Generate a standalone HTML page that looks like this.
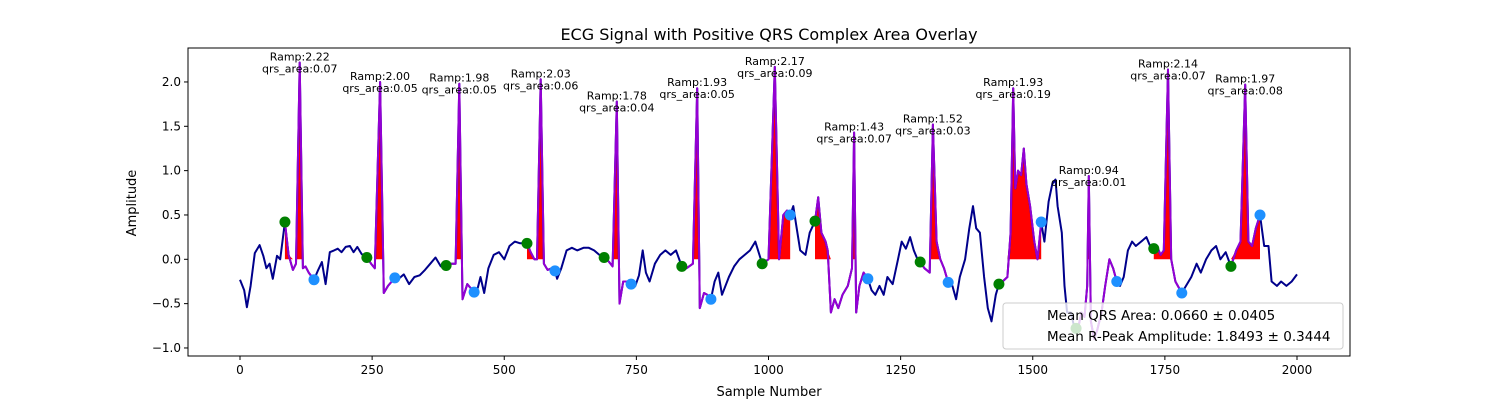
<!DOCTYPE html>
<html><head><meta charset="utf-8"><style>
html,body{margin:0;padding:0;background:#fff;}
svg{display:block;font-family:"DejaVu Sans","Liberation Sans",sans-serif;}
</style></head><body>
<svg id="chart" width="1500" height="400" viewBox="0 0 1500 400"></svg>
<script>
const sigSamples=[0,8,13,20,28,37,44,50,56,62,70,76,85,92,100,106,113,119,124,130,140,148,155,162,170,178,185,192,200,208,215,222,230,240,248,255,265,272,280,293,300,310,320,330,340,350,360,370,380,390,400,408,415,421,430,443,450,455,462,470,480,490,500,510,520,530,543,550,557,562,569,575,582,590,596,600,608,618,628,638,650,660,670,680,689,697,705,713,718,725,732,740,748,755,762,768,775,785,795,805,815,825,836,845,857,865,870,878,884,891,898,905,912,925,935,945,955,965,975,988,1000,1012,1020,1028,1035,1041,1047,1052,1060,1070,1078,1088,1094,1100,1108,1112,1118,1125,1132,1140,1150,1158,1162,1166,1172,1180,1188,1195,1202,1210,1218,1225,1235,1245,1252,1260,1268,1275,1282,1287,1295,1305,1311,1318,1325,1332,1340,1348,1355,1362,1372,1380,1387,1393,1400,1408,1415,1422,1430,1436,1443,1452,1458,1463,1467,1472,1478,1483,1488,1495,1503,1509,1516,1522,1530,1537,1543,1547,1555,1560,1565,1572,1578,1585,1592,1598,1603,1606,1610,1616,1622,1630,1637,1645,1652,1659,1665,1672,1680,1688,1695,1705,1715,1722,1729,1735,1742,1748,1756,1762,1770,1782,1790,1800,1810,1818,1828,1838,1847,1855,1865,1875,1885,1893,1902,1908,1915,1922,1930,1938,1946,1952,1962,1970,1980,1990,2000];
const sigValues=[-0.23,-0.35,-0.54,-0.3,0.07,0.16,0.04,-0.1,-0.05,-0.22,0.04,0.0,0.42,0.05,-0.12,-0.05,2.22,-0.1,-0.08,-0.15,-0.23,-0.12,-0.03,-0.28,0.08,0.1,0.12,0.08,0.14,0.15,0.08,0.14,0.06,0.02,-0.05,-0.1,2.0,-0.38,-0.3,-0.21,-0.22,-0.17,-0.28,-0.2,-0.18,-0.12,-0.05,0.02,-0.08,-0.07,-0.05,-0.05,1.98,-0.45,-0.28,-0.37,-0.32,-0.2,-0.38,-0.1,0.05,0.08,0.0,0.15,0.2,0.18,0.18,0.08,0.0,0.0,2.03,-0.05,-0.12,-0.1,-0.13,-0.22,-0.1,0.1,0.13,0.1,0.13,0.13,0.1,0.05,0.02,-0.02,-0.08,1.78,-0.5,-0.25,-0.25,-0.28,-0.3,-0.18,0.1,-0.15,-0.25,-0.05,0.05,0.1,0.05,0.1,-0.08,-0.1,-0.05,1.93,-0.55,-0.38,-0.4,-0.45,-0.25,-0.15,-0.4,-0.2,-0.08,0.0,0.05,0.1,0.2,-0.05,0.0,2.17,0.0,0.5,0.55,0.5,0.6,0.4,0.1,0.05,0.3,0.43,0.7,0.3,0.2,0.1,-0.6,-0.45,-0.55,-0.4,-0.3,-0.1,1.43,-0.6,-0.3,-0.15,-0.22,-0.35,-0.4,-0.3,-0.4,-0.2,-0.28,0.0,0.2,0.12,0.25,0.1,0.0,-0.03,-0.1,-0.15,1.52,0.2,0.0,-0.1,-0.26,-0.3,-0.45,-0.2,0.0,0.35,0.6,0.35,0.3,-0.2,-0.55,-0.7,-0.4,-0.28,-0.25,-0.2,0.3,1.93,0.8,1.0,0.95,1.25,0.85,0.6,0.2,0.0,0.42,0.2,0.65,0.85,0.9,0.6,0.3,-0.3,-0.6,-0.6,-0.75,-0.8,-0.6,-0.65,-0.3,0.94,-0.7,-0.9,-0.8,-0.6,-0.3,0.0,-0.1,-0.25,-0.3,-0.2,0.1,0.2,0.15,0.2,0.25,0.15,0.12,0.15,0.05,0.1,2.14,0.0,-0.25,-0.38,-0.3,-0.2,-0.05,-0.15,0.0,0.1,0.15,0.0,0.08,-0.08,0.1,0.2,1.97,0.2,0.15,0.35,0.5,0.15,0.15,-0.25,-0.3,-0.25,-0.3,-0.25,-0.17];
const onsetSamples=[85,240,390,543,689,836,988,1088,1287,1436,1582,1729,1875];
const rPeakSamples=[113,265,415,569,713,865,1012,1162,1311,1463,1606,1756,1902];
const rAmps=[2.22,2.00,1.98,2.03,1.78,1.93,2.17,1.43,1.52,1.93,0.94,2.14,1.97];
const qrsAreas=[0.07,0.05,0.05,0.06,0.04,0.05,0.09,0.07,0.03,0.19,0.01,0.07,0.08];
const offsetSamples=[140,293,443,596,740,891,1041,1188,1340,1516,1659,1782,1930];
const xTicks=[0,250,500,750,1000,1250,1500,1750,2000];
const yTicks=[-1.0,-0.5,0.0,0.5,1.0,1.5,2.0];

const NS="http://www.w3.org/2000/svg";
const svg=document.getElementById('chart');
const L=188,R=1350,T=48,B=356;
const X=s=>240+(s)*(1297-240)/2000;
const Y=v=>259.3-v*88.67;
function mk(tag,attrs,parent){const e=document.createElementNS(NS,tag);for(const k in attrs)e.setAttribute(k,attrs[k]);(parent||svg).appendChild(e);return e;}
function interp(s){for(let i=0;i<sigSamples.length-1;i++){if(s>=sigSamples[i]&&s<=sigSamples[i+1]){const t=(s-sigSamples[i])/(sigSamples[i+1]-sigSamples[i]||1);return sigValues[i]+t*(sigValues[i+1]-sigValues[i]);}}return sigValues[sigValues.length-1];}
function segPts(a,b){const pts=[[a,interp(a)]];sigSamples.forEach((s,i)=>{if(s>a&&s<b)pts.push([s,sigValues[i]]);});pts.push([b,interp(b)]);return pts;}

mk('rect',{x:0,y:0,width:1500,height:400,fill:'#fff'});
const title=mk('text',{x:769,y:40,'text-anchor':'middle','font-size':16,fill:'#000'});title.textContent='ECG Signal with Positive QRS Complex Area Overlay';



const clip=mk('clipPath',{id:'pc'});mk('rect',{x:L,y:T,width:R-L,height:B-T},clip);
const plot=mk('g',{'clip-path':'url(#pc)'});



onsetSamples.forEach((on,i)=>{
  const pts=segPts(on,offsetSamples[i]);
  let d='M'+X(on)+','+Y(0);
  pts.forEach(p=>{d+=' L'+X(p[0]).toFixed(1)+','+Y(Math.max(p[1],0)).toFixed(1);});
  d+=' L'+X(offsetSamples[i])+','+Y(0)+' Z';
  const f=mk('path',{d:d,fill:'#ff0000',stroke:'none'},plot);
  
  
});
const line=mk('polyline',{points:sigSamples.map((s,i)=>X(s).toFixed(1)+','+Y(sigValues[i]).toFixed(1)).join(' '),fill:'none',stroke:'#00008b','stroke-width':2,'stroke-linejoin':'round'},plot);


onsetSamples.forEach((on,i)=>{
  const pts=segPts(on,offsetSamples[i]);
  const p=mk('polyline',{points:pts.map(q=>X(q[0]).toFixed(1)+','+Y(q[1]).toFixed(1)).join(' '),fill:'none',stroke:'#9400d3','stroke-width':2,'stroke-linejoin':'round'},plot);
  
  
});
onsetSamples.forEach((s,i)=>{
  const c=mk('circle',{cx:X(s),cy:Y(interp(s)),r:5.5,fill:'#008000'},plot);
  
  
  const o=offsetSamples[i];
  const c2=mk('circle',{cx:X(o),cy:Y(interp(o)),r:5.5,fill:'#1e90ff'},plot);
  
  
});
rPeakSamples.forEach((s,i)=>{
  const g=mk('text',{x:X(s),y:Y(rAmps[i])-2,'text-anchor':'middle','font-size':11,fill:'#000'});
  
  
  const t1=mk('tspan',{x:X(s),dy:0},g);t1.textContent='Ramp:'+rAmps[i].toFixed(2);
  const t2=mk('tspan',{x:X(s),dy:12},g);t2.textContent='qrs_area:'+qrsAreas[i].toFixed(2);
});
const fr=mk('rect',{x:L,y:T,width:R-L,height:B-T,fill:'none',stroke:'#000','stroke-width':1});


xTicks.forEach(t=>{
  mk('line',{x1:X(t),x2:X(t),y1:B,y2:B+4,stroke:'#000'});
  const tx=mk('text',{x:X(t),y:B+18,'text-anchor':'middle','font-size':12});tx.textContent=t;
  
  
});
yTicks.forEach(t=>{
  mk('line',{x1:L-4,x2:L,y1:Y(t),y2:Y(t),stroke:'#000'});
  const tx=mk('text',{x:L-7,y:Y(t)+4,'text-anchor':'end','font-size':12});tx.textContent=(t<0?'\u2212':'')+Math.abs(t).toFixed(1);
  
  
});
const xl=mk('text',{x:769,y:396,'text-anchor':'middle','font-size':13});xl.textContent='Sample Number';


const yl=mk('text',{x:136,y:203,'text-anchor':'middle','font-size':13,transform:'rotate(-90 136 203)'});yl.textContent='Amplitude';


const lg=mk('g',{});


mk('rect',{x:1003,y:303,width:340,height:46,rx:3,fill:'#fff','fill-opacity':0.8,stroke:'#ccc'},lg);
const l1=mk('text',{x:1047,y:320,'font-size':13.5},lg);l1.textContent='Mean QRS Area: 0.0660 \u00b1 0.0405';


const l2=mk('text',{x:1047,y:341,'font-size':13.5},lg);l2.textContent='Mean R-Peak Amplitude: 1.8493 \u00b1 0.3444';


</script>
</body></html>
